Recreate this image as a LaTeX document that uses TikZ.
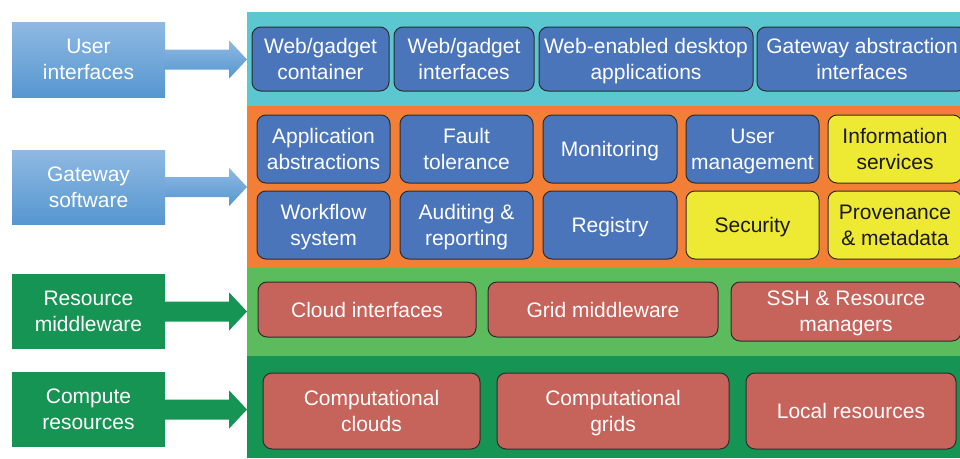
\documentclass[tikz,border=0pt]{standalone}
\usepackage{fontspec}
\setmainfont{Liberation Sans}
\usetikzlibrary{calc}
\definecolor{cyanL}{RGB}{91,199,209}
\definecolor{orangeL}{RGB}{243,127,54}
\definecolor{lgreenL}{RGB}{92,187,92}
\definecolor{dgreenL}{RGB}{22,148,84}
\definecolor{boxblue}{RGB}{75,117,186}
\definecolor{boxyellow}{RGB}{238,233,50}
\definecolor{boxred}{RGB}{198,99,90}
\definecolor{edgegray}{RGB}{45,45,45}
\definecolor{ltop}{RGB}{143,185,226}
\definecolor{lbot}{RGB}{86,151,208}
\newcommand{\nodp}[1]{\raisebox{0pt}[\height][0pt]{#1}}
\tikzset{
  every node/.style={font=\fontsize{21}{26}\selectfont},
  layer/.style={fill=#1, draw=none, inner sep=0, anchor=north west},
  cbox/.style={draw=edgegray, line width=1pt, rounded corners=9pt, fill=#1, align=center, inner sep=0, text=white},
  ybox/.style={cbox=boxyellow, text={rgb,255:red,25;green,25;blue,25}},
  bluelab/.style={top color=ltop, bottom color=lbot, draw=none, align=center, inner sep=0, text=white, minimum width=153pt},
  greenlab/.style={fill=dgreenL, draw=none, align=center, inner sep=0, text=white, minimum width=153pt},
}
\newcommand{\blockarrow}[3]{%
  \path[#3] (#1.east) ++(0,-10pt) -- ++(64pt,0) -- ++(0,-9pt)
     -- ($(#2.west |- #1.east)$) -- ($(#1.east)+(64pt,19pt)$) -- ++(0,-9pt) -- ($(#1.east)+(0,10pt)$) -- cycle;}
\begin{document}
\begin{tikzpicture}[x=1pt,y=-1pt]
\useasboundingbox (0,0) rectangle (960,458);
\begin{scope}
\clip (0,0) rectangle (960,458);
% layers
\node[layer=cyanL, minimum width=713pt, minimum height=94pt] (L1) at (247,12) {};
\node[layer=orangeL, minimum width=713pt, minimum height=162pt] (L2) at (247,106) {};
\node[layer=lgreenL, minimum width=713pt, minimum height=88pt] (L3) at (247,268) {};
\node[layer=dgreenL, minimum width=713pt, minimum height=102pt] (L4) at (247,356) {};
% user interfaces
\node[cbox=boxblue, minimum width=137pt, minimum height=64pt] (u1) at (320.5,59) {Web/gadget\\container};
\node[cbox=boxblue, minimum width=140pt, minimum height=64pt] (u2) at (464,59) {Web/gadget\\interfaces};
\node[cbox=boxblue, minimum width=214pt, minimum height=64pt] (u3) at (646,59) {Web-enabled desktop\\\nodp{applications}};
\node[cbox=boxblue, minimum width=210pt, minimum height=64pt] (u4) at (862,59) {Gateway abstraction\\interfaces};
% gateway software
\node[cbox=boxblue, minimum width=133pt, minimum height=68pt] (g1) at (323.5,149) {Application\\abstractions};
\node[cbox=boxblue, minimum width=133pt, minimum height=68pt] (g2) at (466.5,149) {Fault\\tolerance};
\node[cbox=boxblue, minimum width=134pt, minimum height=68pt] (g3) at (610,149) {\nodp{Monitoring}};
\node[cbox=boxblue, minimum width=133pt, minimum height=68pt] (g4) at (752.5,149) {User\\\nodp{management}};
\node[ybox, minimum width=134pt, minimum height=68pt] (g5) at (895,149) {Information\\services};
\node[cbox=boxblue, minimum width=133pt, minimum height=68pt] (g6) at (323.5,225) {Workflow\\\nodp{system}};
\node[cbox=boxblue, minimum width=133pt, minimum height=68pt] (g7) at (466.5,225) {Auditing \&\\\nodp{reporting}};
\node[cbox=boxblue, minimum width=134pt, minimum height=68pt] (g8) at (610,225) {\nodp{Registry}};
\node[ybox, minimum width=133pt, minimum height=68pt] (g9) at (752.5,225) {\nodp{Security}};
\node[ybox, minimum width=134pt, minimum height=68pt] (g10) at (895,225) {Provenance\\\& metadata};
% resource middleware
\node[cbox=boxred, minimum width=218pt, minimum height=55pt] (m1) at (367,309.5) {Cloud interfaces};
\node[cbox=boxred, minimum width=230pt, minimum height=55pt] (m2) at (603,309.5) {Grid middleware};
\node[cbox=boxred, minimum width=230pt, minimum height=59pt] (m3) at (846,311.5) {SSH \& Resource\\\nodp{managers}};
% compute resources
\node[cbox=boxred, minimum width=217pt, minimum height=76pt] (c1) at (371.5,411) {Computational\\clouds};
\node[cbox=boxred, minimum width=232pt, minimum height=76pt] (c2) at (613,411) {Computational\\\nodp{grids}};
\node[cbox=boxred, minimum width=210pt, minimum height=76pt] (c3) at (851,411) {Local resources};
\end{scope}
% left labels
\node[bluelab, minimum height=75pt] (ui) at (88.5,59.5) {User\\interfaces};
\node[bluelab, minimum height=74pt] (gw) at (88.5,187) {Gateway\\software};
\node[greenlab, minimum height=75pt] (rm) at (88.5,311.5) {Resource\\middleware};
\node[greenlab, minimum height=75pt] (cr) at (88.5,409.5) {Compute\\resources};
% arrows
\blockarrow{ui}{L1}{top color=ltop, bottom color=lbot}
\blockarrow{gw}{L2}{top color=ltop, bottom color=lbot}
\blockarrow{rm}{L3}{fill=dgreenL}
\blockarrow{cr}{L4}{fill=dgreenL}
\end{tikzpicture}
\end{document}
